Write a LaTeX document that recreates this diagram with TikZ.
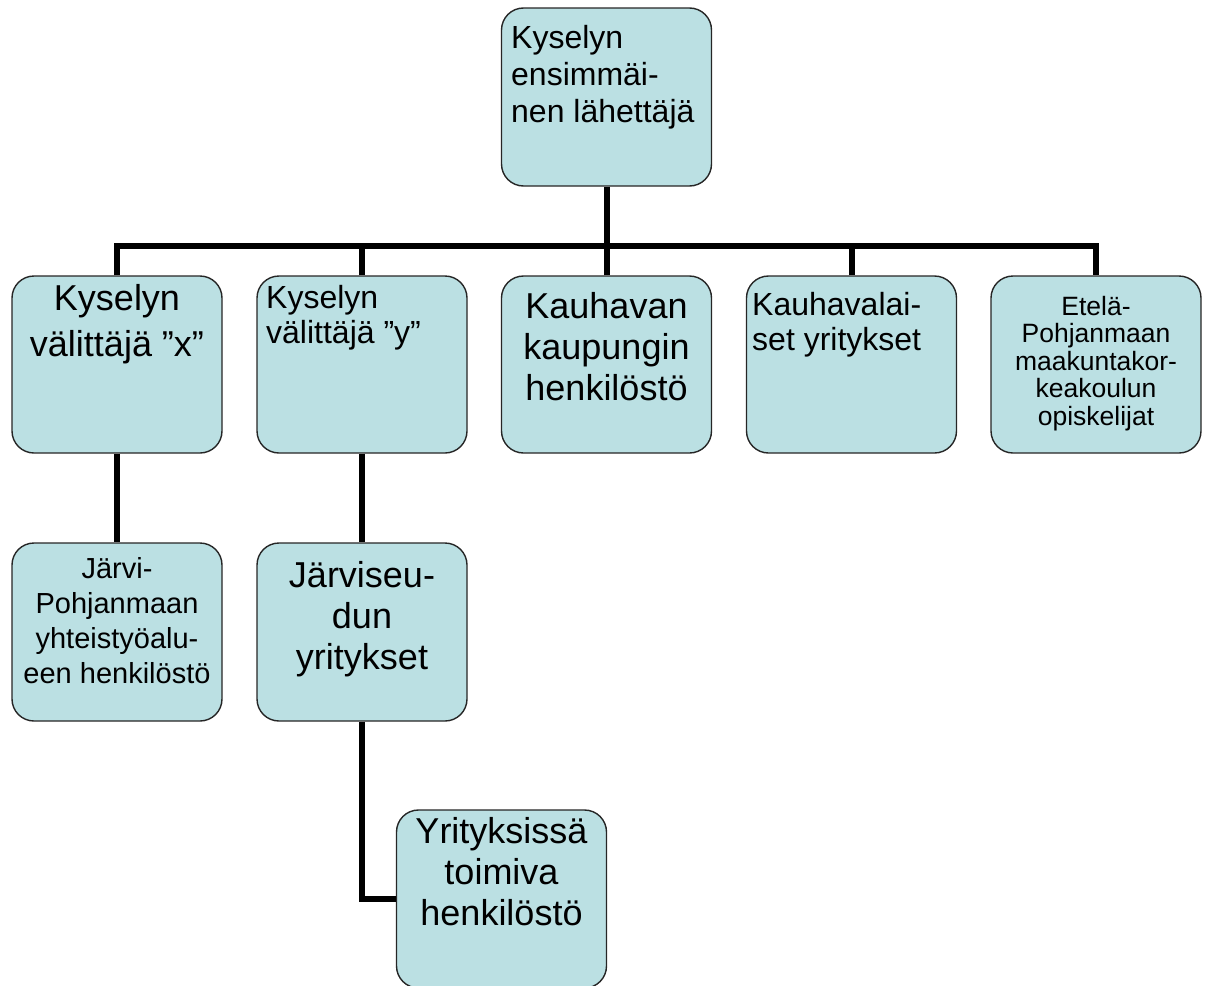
\documentclass[tikz,border=0pt]{standalone}
\usepackage{fontspec}
\setmainfont{Liberation Sans}
\definecolor{boxfill}{HTML}{BBE0E3}
\tikzset{
  orgbox/.style={draw=black!85, line width=1.4pt, fill=boxfill, rounded corners=22pt,
    minimum width=210pt, minimum height=178pt, inner sep=0pt},
  conn/.style={draw=black, line width=6pt},
  lbl/.style={inner sep=0pt, anchor=north},
  lblL/.style={inner sep=0pt, anchor=north west, align=left},
}
\begin{document}
\begin{tikzpicture}[x=1pt,y=-1pt]
\useasboundingbox (0,0) rectangle (1207,985);
\coordinate (bus) at (0,246);
\node[orgbox] (b0) at (606.5,97) {};
\node[orgbox, minimum height=177pt] (b1) at (117,364.5) {};
\node[orgbox, minimum height=177pt] (b2) at (362,364.5) {};
\node[orgbox, minimum height=177pt] (b3) at (606.5,364.5) {};
\node[orgbox, minimum height=177pt] (b4) at (851.5,364.5) {};
\node[orgbox, minimum height=177pt] (b5) at (1096,364.5) {};
\node[orgbox] (b6) at (117,632) {};
\node[orgbox] (b7) at (362,632) {};
\node[orgbox] (b8) at (501.5,899) {};
% connectors
\path[conn] (b0.south) -- (b0.south |- bus);
\path[conn] (b1.north) -- (b1.north |- bus) -- (b5.north |- bus) -- (b5.north);
\path[conn] (b2.north) -- (b2.north |- bus);
\path[conn] (b3.north) -- (b3.north |- bus);
\path[conn] (b4.north) -- (b4.north |- bus);
\path[conn] (b1.south) -- (b6.north);
\path[conn] (b2.south) -- (b7.north);
\path[conn] (b7.south) |- (b8.west);
% labels
\node[lblL, font=\fontsize{32}{37}\selectfont] (t0) at (511,25) {Kyselyn\\ensimmäi-\\nen lähettäjä};
\node[lbl, align=center, font=\fontsize{36}{46}\selectfont] (t1) at (117,284) {Kyselyn\\välittäjä ”x”};
\node[lblL, font=\fontsize{32}{35}\selectfont] (t2) at (266,285) {Kyselyn\\välittäjä ”y”};
\node[lbl, align=center, font=\fontsize{36}{41}\selectfont] (t3) at (606.5,292) {Kauhavan\\kaupungin\\henkilöstö};
\node[lblL, font=\fontsize{32}{35}\selectfont] (t4) at (752,292) {Kauhavalai-\\set yritykset};
\node[lbl, align=center, font=\fontsize{26.5}{27.5}\selectfont] (t5) at (1096,296) {Etelä-\\Pohjanmaan\\maakuntakor-\\keakoulun\\opiskelijat};
\node[lbl, align=center, font=\fontsize{29}{35}\selectfont] (t6) at (117,557) {Järvi-\\Pohjanmaan\\yhteistyöalu-\\een henkilöstö};
\node[lbl, align=center, font=\fontsize{36}{41}\selectfont] (t7) at (362,561) {Järviseu-\\dun\\yritykset};
\node[lbl, align=center, font=\fontsize{36}{41}\selectfont] (t8) at (501.5,817) {Yrityksissä\\toimiva\\henkilöstö};
\end{tikzpicture}
\end{document}
